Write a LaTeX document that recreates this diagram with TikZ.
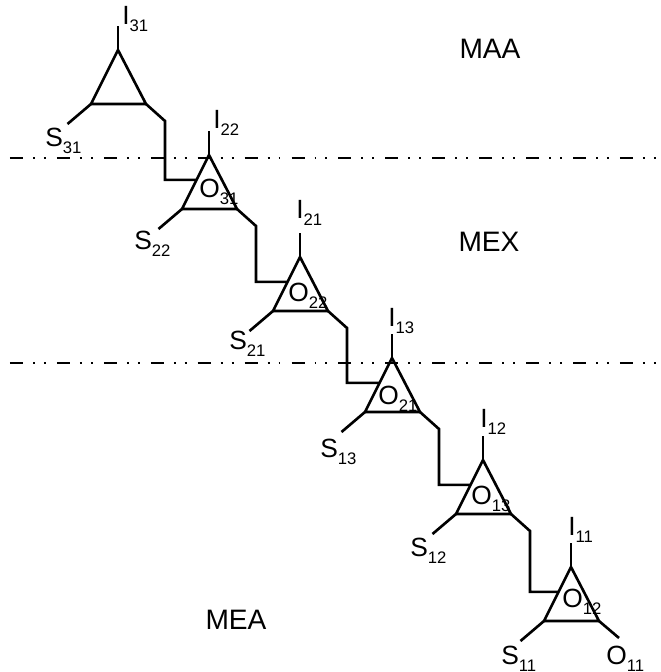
\documentclass[tikz,border=0pt]{standalone}
\usepackage{fontspec}
\setmainfont{Liberation Sans}
\usetikzlibrary{calc}

\newcommand{\subidx}[1]{\raisebox{-4pt}{\fontsize{9.5}{10}\selectfont #1}}

\begin{document}
\begin{tikzpicture}[line width=1.5pt,
    lab/.style={anchor=base west, inner sep=0pt, font=\fontsize{15}{17}\selectfont},
    region/.style={inner sep=0pt, font=\fontsize{16}{18}\selectfont},
    boundary/.style={line width=1.6pt, dash pattern=on 7.4pt off 5.7pt on 1.1pt off 5.1pt on 1.1pt off 6.3pt}]
    \useasboundingbox (0,0) rectangle (13.22,-13.44);

    % Apexes of the triangles
    \coordinate (a1) at (2.36,-1.00);
    \coordinate (a2) at (4.18,-3.10);
    \coordinate (a3) at (6.00,-5.14);
    \coordinate (a4) at (7.84,-7.16);
    \coordinate (a5) at (9.66,-9.20);
    \coordinate (a6) at (11.42,-11.34);

    % Triangles, naming the base corners
    \draw (a1) -- ++(-0.54,-1.08) coordinate (l1) -- ++(1.10,0) coordinate (r1) -- cycle;
    \draw (a2) -- ++(-0.54,-1.08) coordinate (l2) -- ++(1.10,0) coordinate (r2) -- cycle;
    \draw (a3) -- ++(-0.54,-1.08) coordinate (l3) -- ++(1.10,0) coordinate (r3) -- cycle;
    \draw (a4) -- ++(-0.54,-1.08) coordinate (l4) -- ++(1.10,0) coordinate (r4) -- cycle;
    \draw (a5) -- ++(-0.54,-1.08) coordinate (l5) -- ++(1.10,0) coordinate (r5) -- cycle;
    \draw (a6) -- ++(-0.54,-1.08) coordinate (l6) -- ++(1.10,0) coordinate (r6) -- cycle;

    % Inputs on top
    \draw (a1) -- ++(0,0.48) coordinate (i1);
    \draw (a2) -- ++(0,0.48) coordinate (i2);
    \draw (a3) -- ++(0,0.48) coordinate (i3);
    \draw (a4) -- ++(0,0.48) coordinate (i4);
    \draw (a5) -- ++(0,0.48) coordinate (i5);
    \draw (a6) -- ++(0,0.48) coordinate (i6);

    % Side outputs
    \draw (l1) -- ++(-0.47,-0.40) coordinate (s1);
    \draw (l2) -- ++(-0.47,-0.40) coordinate (s2);
    \draw (l3) -- ++(-0.47,-0.40) coordinate (s3);
    \draw (l4) -- ++(-0.47,-0.40) coordinate (s4);
    \draw (l5) -- ++(-0.47,-0.40) coordinate (s5);
    \draw (l6) -- ++(-0.47,-0.40) coordinate (s6);
    \draw (r6) -- ++(0.40,-0.34) coordinate (o6);

    % Where each link enters the next triangle
    \coordinate (c2) at ($(a2)!0.46!(l2)$);
    \coordinate (c3) at ($(a3)!0.46!(l3)$);
    \coordinate (c4) at ($(a4)!0.46!(l4)$);
    \coordinate (c5) at ($(a5)!0.46!(l5)$);
    \coordinate (c6) at ($(a6)!0.46!(l6)$);

    % Links between the stages
    \draw (r1) -- ++(0.38,-0.34) |- (c2);
    \draw (r2) -- ++(0.38,-0.34) |- (c3);
    \draw (r3) -- ++(0.38,-0.34) |- (c4);
    \draw (r4) -- ++(0.38,-0.34) |- (c5);
    \draw (r5) -- ++(0.38,-0.34) |- (c6);

    % Level boundaries
    \draw[boundary] (0.2,-3.16) -- (13.22,-3.16);
    \draw[boundary] (0.2,-7.26) -- (13.22,-7.26);

    % Labels
    \node[lab] (I31) at (2.42,-0.48) {I\subidx{31}};
    \node[lab] (I22) at (4.24,-2.56) {I\subidx{22}};
    \node[lab] (I21) at (5.90,-4.36) {I\subidx{21}};
    \node[lab] (I13) at (7.74,-6.52) {I\subidx{13}};
    \node[lab] (I12) at (9.58,-8.54) {I\subidx{12}};
    \node[lab] (I11) at (11.34,-10.70) {I\subidx{11}};

    \node[lab] (S31) at (0.88,-2.92) {S\subidx{31}};
    \node[lab] (S22) at (2.66,-4.98) {S\subidx{22}};
    \node[lab] (S21) at (4.56,-6.98) {S\subidx{21}};
    \node[lab] (S13) at (6.38,-9.14) {S\subidx{13}};
    \node[lab] (S12) at (8.18,-11.12) {S\subidx{12}};
    \node[lab] (S11) at (10.00,-13.28) {S\subidx{11}};

    \node[lab] (O31) at (3.96,-3.94) {O\subidx{31}};
    \node[lab] (O22) at (5.74,-6.02) {O\subidx{22}};
    \node[lab] (O21) at (7.54,-8.08) {O\subidx{21}};
    \node[lab] (O13) at (9.40,-10.08) {O\subidx{13}};
    \node[lab] (O12) at (11.22,-12.14) {O\subidx{12}};
    \node[lab] (O11) at (12.10,-13.28) {O\subidx{11}};

    \node[region] (MAA) at (9.80,-0.98) {MAA};
    \node[region] (MEX) at (9.78,-4.84) {MEX};
    \node[region] (MEA) at (4.72,-12.40) {MEA};

\end{tikzpicture}
\end{document}
